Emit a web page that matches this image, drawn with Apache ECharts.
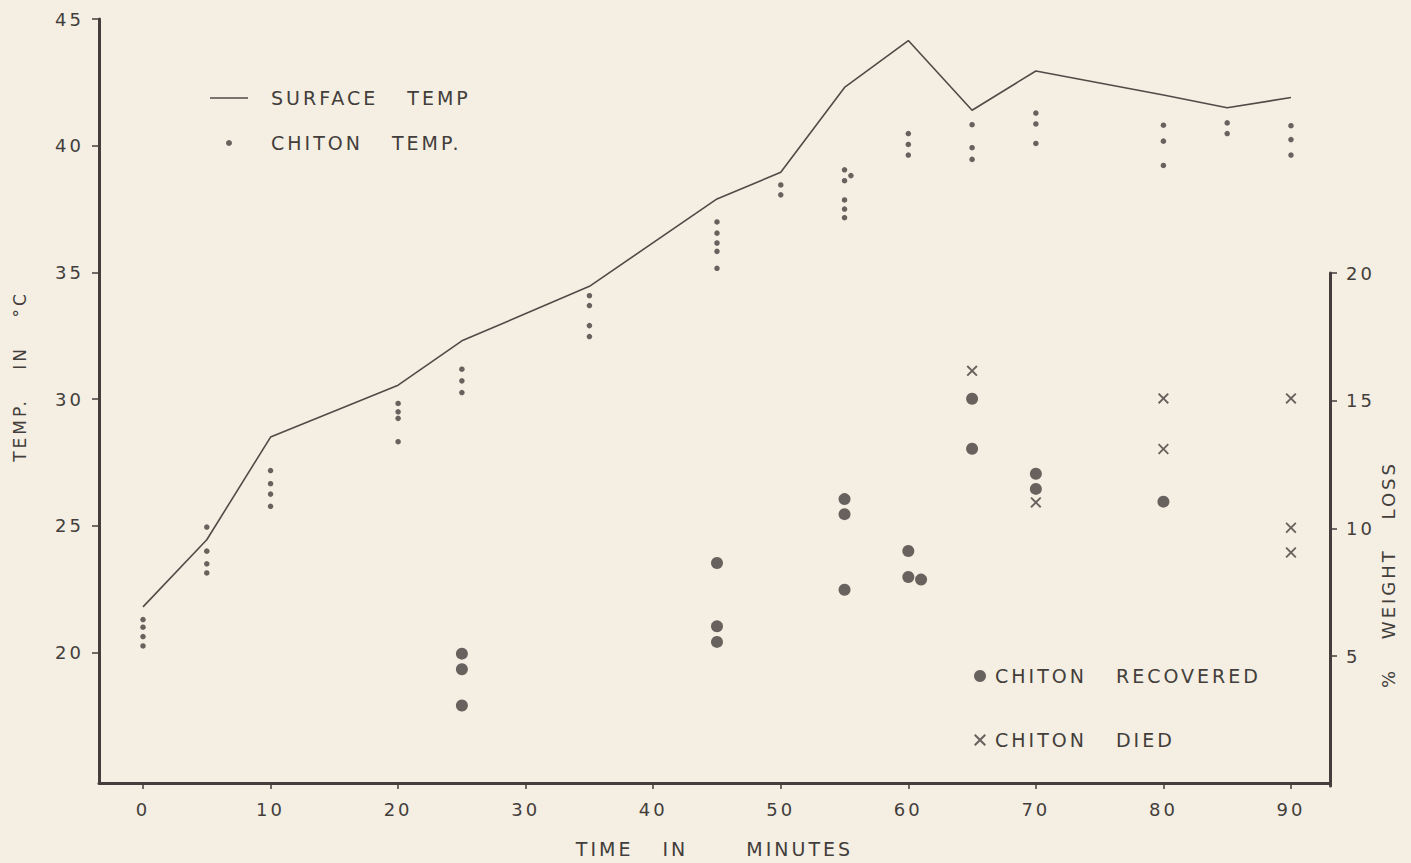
<!DOCTYPE html>
<html><head><meta charset="utf-8">
<script src="https://cdn.jsdelivr.net/npm/echarts@6/dist/echarts.min.js"></script>
<style>
html,body{margin:0;padding:0;background:#f4eee3;}
#chart{width:1411px;height:863px;}
#chart text{letter-spacing:3px;word-spacing:20px;white-space:pre;}
</style></head><body><div id="chart"></div>
<script>
// Tick labels
const timeTicks = [0, 10, 20, 30, 40, 50, 60, 70, 80, 90];
const tempTicks = [20, 25, 30, 35, 40, 45];
const lossTicks = [5, 10, 15, 20];

// Surface temperature (line)
const surfaceTime = [0, 5, 10, 20, 25, 35, 45, 50, 55, 60, 65, 70, 80, 85, 90];
const surfaceTemp = [21.8, 24.45, 28.5, 30.55, 32.3, 34.45, 37.9, 38.95, 42.3, 44.15, 41.4, 42.95, 42.0, 41.5, 41.9];

// Chiton body temperature (small dots) [time, temp]
const chitonTemp = [
  [0, 21.3], [0, 21.0], [0, 20.63], [0, 20.26],
  [5, 24.95], [5, 24.0], [5, 23.5], [5, 23.14],
  [10, 27.18], [10, 26.66], [10, 26.25], [10, 25.77],
  [20, 29.83], [20, 29.5], [20, 29.24], [20, 28.32],
  [25, 31.18], [25, 30.72], [25, 30.26],
  [35, 34.08], [35, 33.69], [35, 32.9], [35, 32.47],
  [45, 36.99], [45, 36.55], [45, 36.16], [45, 35.83], [45, 35.16],
  [50, 38.45], [50, 38.06],
  [55, 39.05], [55.5, 38.82], [55, 38.62], [55, 37.86], [55, 37.5], [55, 37.16],
  [60, 40.48], [60, 40.05], [60, 39.63],
  [65, 40.83], [65, 39.92], [65, 39.46],
  [70, 41.29], [70, 40.86], [70, 40.09],
  [80, 40.81], [80, 40.18], [80, 39.22],
  [85, 40.9], [85, 40.48],
  [90, 40.79], [90, 40.24], [90, 39.63]
];

// % weight loss [time, %]
const recovered = [
  [25, 5.1], [25, 4.49], [25, 3.07],
  [45, 8.65], [45, 6.17], [45, 5.56],
  [55, 11.15], [55, 10.56], [55, 7.6],
  [60, 9.12], [60, 8.1], [61, 8.0],
  [65, 15.08], [65, 13.12],
  [70, 12.14], [70, 11.55],
  [80, 11.05]
];
const died = [
  [65, 16.17],
  [70, 11.02],
  [80, 15.09], [80, 13.11],
  [90, 15.09], [90, 10.03], [90, 9.06]
];

const INK = '#433e3b';
const FONT = 'DejaVu Sans';
const crossPath = 'path://M0,1.2 L1.2,0 L5,3.8 L8.8,0 L10,1.2 L6.2,5 L10,8.8 L8.8,10 L5,6.2 L1.2,10 L0,8.8 L3.8,5 Z';
const lineIcon = 'path://M0,0 L38,0 L38,1.6 L0,1.6 Z';

const chart = echarts.init(document.getElementById('chart'), null, {renderer: 'svg'});
chart.setOption({
  backgroundColor: '#f4eee3',
  animation: false,
  textStyle: {fontFamily: FONT, color: INK},
  grid: [
    {left: 99, right: 81, top: 19, bottom: 77},
    {left: 99, right: 81, top: 273, bottom: 77}
  ],
  legend: [
    {
      orient: 'vertical', left: 205, top: 83, itemWidth: 38, itemHeight: 6, itemGap: 25,
      selectedMode: false,
      textStyle: {fontFamily: FONT, fontSize: 19, color: INK, lineHeight: 20, padding: [0, 0, 0, 18]},
      data: [{name: 'SURFACE TEMP', icon: lineIcon}, {name: 'CHITON TEMP.'}]
    },
    {
      orient: 'vertical', left: 969, top: 661, itemWidth: 12, itemHeight: 12, itemGap: 44,
      selectedMode: false,
      textStyle: {fontFamily: FONT, fontSize: 19, color: INK, lineHeight: 20, padding: [0, 0, 0, 4]},
      data: [{name: 'CHITON RECOVERED'}, {name: 'CHITON DIED'}]
    }
  ],
  xAxis: [
    {
      gridIndex: 0, type: 'value', min: -3.45, max: 93.06,
      name: 'TIME IN  MINUTES', nameLocation: 'middle', nameGap: 56,
      nameTextStyle: {fontFamily: FONT, fontSize: 19, color: INK},
      axisLine: {show: true, onZero: false, lineStyle: {color: INK, width: 3}},
      axisTick: {show: true, customValues: timeTicks, length: 6, lineStyle: {color: INK, width: 1.5}},
      axisLabel: {customValues: timeTicks, margin: 17, fontSize: 18, color: INK, fontFamily: FONT},
      splitLine: {show: false}
    },
    {gridIndex: 1, type: 'value', min: -3.45, max: 93.06, show: false}
  ],
  yAxis: [
    {
      gridIndex: 0, type: 'value', min: 14.85, max: 45, position: 'left',
      name: 'TEMP. IN °C', nameLocation: 'middle', nameGap: 71, nameRotate: 90,
      nameTextStyle: {fontFamily: FONT, fontSize: 17, color: INK, padding: [0, 0, 0, 49]},
      axisLine: {show: true, onZero: false, lineStyle: {color: INK, width: 3}},
      axisTick: {show: true, customValues: tempTicks, length: 7, lineStyle: {color: INK, width: 1.5}},
      axisLabel: {customValues: tempTicks, margin: 15, fontSize: 18, color: INK, fontFamily: FONT},
      splitLine: {show: false}
    },
    {
      gridIndex: 1, type: 'value', min: -0.08, max: 20, position: 'right',
      name: '% WEIGHT LOSS', nameLocation: 'middle', nameGap: 44, nameRotate: 90,
      nameTextStyle: {fontFamily: FONT, fontSize: 18, color: INK, padding: [0, 90, 0, 0]},
      axisLine: {show: true, onZero: false, lineStyle: {color: INK, width: 3}},
      axisTick: {show: true, customValues: lossTicks, length: 7, lineStyle: {color: INK, width: 1.5}},
      axisLabel: {customValues: lossTicks, margin: 16, fontSize: 18, color: INK, fontFamily: FONT},
      splitLine: {show: false}
    }
  ],
  series: [
    {
      name: 'SURFACE TEMP', type: 'line', xAxisIndex: 0, yAxisIndex: 0,
      data: surfaceTime.map((t, i) => [t, surfaceTemp[i]]),
      symbol: 'none', lineStyle: {color: '#514b47', width: 1.6}, itemStyle: {color: '#514b47'}
    },
    {
      name: 'CHITON TEMP.', type: 'scatter', xAxisIndex: 0, yAxisIndex: 0,
      data: chitonTemp, symbolSize: 5.5, itemStyle: {color: INK}
    },
    {
      name: 'CHITON RECOVERED', type: 'scatter', xAxisIndex: 1, yAxisIndex: 1,
      data: recovered, symbolSize: 12, itemStyle: {color: INK}
    },
    {
      name: 'CHITON DIED', type: 'scatter', xAxisIndex: 1, yAxisIndex: 1,
      data: died, symbol: crossPath, symbolSize: 11, itemStyle: {color: INK}
    }
  ]
});
</script></body></html>
